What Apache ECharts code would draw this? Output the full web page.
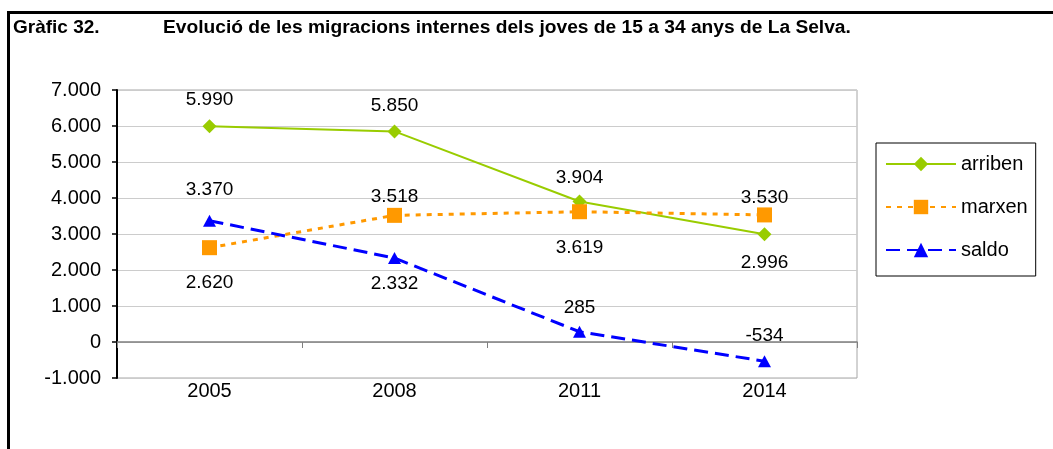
<!DOCTYPE html>
<html>
<head>
<meta charset="utf-8">
<script src="https://cdn.jsdelivr.net/npm/echarts@6/dist/echarts.min.js"></script>
<style>
  html, body { margin: 0; padding: 0; background: #fff; }
  #chart { width: 1053px; height: 449px; }
</style>
</head>
<body>
<div id="chart"></div>
<script>
// Categories and series values
const years = ['2005', '2008', '2011', '2014'];
const arriben = [5990, 5850, 3904, 2996];
const marxen = [2620, 3518, 3619, 3530];
const saldo = [3370, 2332, 285, -534];

// Value axis range and step
const yMin = -1000;
const yMax = 7000;
const yStep = 1000;

const FONT = '"Liberation Sans", Arial, sans-serif';

// Catalan number format: dot as thousands separator
function fmt(v) {
  const s = String(Math.abs(v)).replace(/\B(?=(\d{3})+(?!\d))/g, '.');
  return (v < 0 ? '-' : '') + s;
}

// Attach label placement (side of the marker and gap) to each point
function points(values, placement) {
  return values.map((v, i) => ({
    value: v,
    label: { position: placement[i][0], distance: placement[i][1] }
  }));
}

const labelBase = {
  show: true,
  fontSize: 19,
  fontFamily: FONT,
  color: '#000',
  formatter: p => fmt(p.value)
};

const chart = echarts.init(document.getElementById('chart'), null, { renderer: 'canvas' });

chart.setOption({
  animation: false,
  backgroundColor: '#fff',
  textStyle: { fontFamily: FONT },
  title: [
    {
      text: 'Gràfic 32.',
      left: 13, top: 18, padding: 0,
      textStyle: { fontSize: 19, fontWeight: 'bold', color: '#000', fontFamily: FONT }
    },
    {
      text: 'Evolució de les migracions internes dels joves de 15 a 34 anys de La Selva.',
      left: 163, top: 18, padding: 0,
      textStyle: { fontSize: 19.2, fontWeight: 'bold', color: '#000', fontFamily: FONT }
    }
  ],
  graphic: [
    { type: 'line', shape: { x1: 7, y1: 12.5, x2: 1053, y2: 12.5 }, style: { stroke: '#000', lineWidth: 3 } },
    { type: 'line', shape: { x1: 8.5, y1: 11, x2: 8.5, y2: 449 }, style: { stroke: '#000', lineWidth: 3 } }
  ],
  grid: {
    left: 117, right: 196, top: 90, bottom: 71,
    show: true, borderColor: '#a6a6a6', borderWidth: 1, backgroundColor: 'transparent'
  },
  legend: {
    orient: 'vertical',
    left: 876, top: 143,
    padding: [11, 8, 16, 9],
    borderColor: '#000', borderWidth: 1,
    itemWidth: 70, itemHeight: 18, itemGap: 23,
    textStyle: { fontSize: 20, color: '#000', fontFamily: FONT },
    data: ['arriben', 'marxen', 'saldo']
  },
  xAxis: [
    {
      type: 'category', data: years, position: 'bottom',
      axisLine: { onZero: true, lineStyle: { color: '#7f7f7f', width: 1.5 } },
      axisTick: { show: true, length: 6, lineStyle: { color: '#7f7f7f' } },
      axisLabel: { show: false },
      splitLine: { show: false }
    },
    {
      type: 'category', data: years, position: 'bottom',
      axisLine: { show: false, onZero: false },
      axisTick: { show: false },
      axisLabel: { fontSize: 20, color: '#000', margin: 3, fontFamily: FONT },
      splitLine: { show: false }
    }
  ],
  yAxis: {
    type: 'value', min: yMin, max: yMax, interval: yStep,
    axisLine: { show: true, lineStyle: { color: '#000', width: 2 } },
    axisTick: { show: true, length: 5, lineStyle: { color: '#000', width: 1.5 } },
    axisLabel: { fontSize: 20, color: '#000', margin: 16, fontFamily: FONT, formatter: fmt },
    splitLine: { lineStyle: { color: '#cccccc', width: 1 } }
  },
  series: [
    {
      name: 'arriben', type: 'line', xAxisIndex: 0,
      data: points(arriben, [['top', 10], ['top', 9], ['top', 7], ['bottom', 12]]),
      symbol: 'diamond', symbolSize: 14,
      lineStyle: { color: '#99cc00', width: 2, type: 'solid' },
      itemStyle: { color: '#99cc00' },
      label: labelBase
    },
    {
      name: 'marxen', type: 'line', xAxisIndex: 0,
      data: points(marxen, [['bottom', 18], ['top', 2], ['bottom', 19], ['top', 0]]),
      symbol: 'rect', symbolSize: 15,
      lineStyle: { color: '#ff9900', width: 3, type: [5, 6] },
      itemStyle: { color: '#ff9900' },
      label: labelBase
    },
    {
      name: 'saldo', type: 'line', xAxisIndex: 0,
      data: points(saldo, [['top', 15], ['bottom', 10], ['top', 8], ['top', 10]]),
      symbol: 'triangle', symbolSize: [13, 12],
      lineStyle: { color: '#0000ff', width: 3, type: [14, 7] },
      itemStyle: { color: '#0000ff' },
      label: labelBase
    }
  ]
});
</script>
</body>
</html>
